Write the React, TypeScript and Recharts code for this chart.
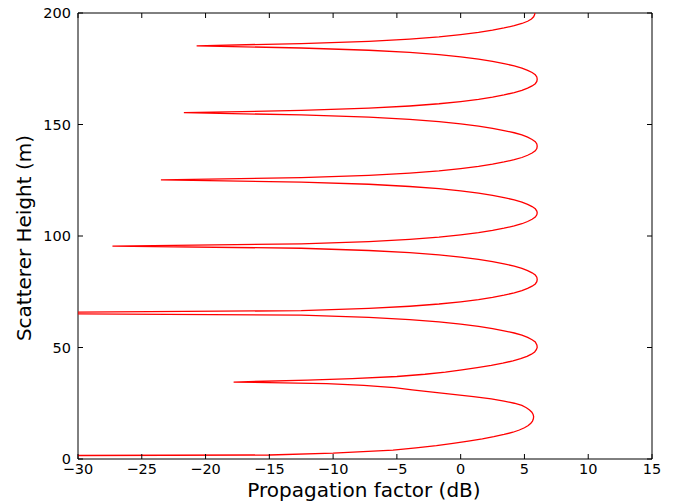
import React from 'react';
import { ScatterChart, Scatter, XAxis, YAxis } from 'recharts';

// [height (m), propagation factor (dB)], lobe by lobe
const lobe0: [number, number][] = [
  [1.4, -40], [1.8, -15], [2.6, -10], [4, -5.3], [5, -3.5], [6, -1.9], [7, -0.6], [8, 0.6],
  [9, 1.7], [10, 2.6], [11, 3.4], [12, 4.1], [13, 4.6], [14, 5.0], [15, 5.3], [16, 5.5],
  [17, 5.63], [18, 5.7], [19, 5.72], [20, 5.68], [21, 5.58], [22, 5.4], [23, 5.15], [24, 4.8],
  [25, 4.2], [26, 3.4], [27, 2.4], [28, 1.0], [29, -0.6], [30, -2.2], [31, -3.8], [32, -5.2],
  [33, -7.6], [33.8, -10.5], [34.5, -17.8],
];
const lobe1: [number, number][] = [
  [35.4, -12], [36, -8.5], [37, -5.0], [38, -2.8], [39, -1.2], [40, 0.1], [41, 1.3], [42, 2.4],
  [43, 3.3], [44, 4.1], [45, 4.7], [46, 5.2], [47, 5.55], [48, 5.8], [49, 5.93], [50, 6.0],
  [51, 5.98], [52.5, 5.85], [53.5, 5.6], [54.5, 5.25], [55.5, 4.8], [56.5, 4.2], [57.5, 3.4],
  [58.5, 2.5], [59.5, 1.4], [60.5, 0.0], [61.5, -1.7], [62.5, -4.0], [63.5, -7.2], [64.5, -12.5],
  [65.5, -42],
];
const lobe2: [number, number][] = [
  [66.5, -12.5], [67.5, -7.2], [68.5, -4.0], [69.5, -1.7], [70.5, 0.0], [71.5, 1.4], [72.5, 2.5],
  [73.5, 3.4], [74.5, 4.2], [75.5, 4.8], [76.5, 5.25], [77.5, 5.6], [78.5, 5.85], [79.5, 5.97],
  [80.5, 6.0], [81.5, 5.97], [82.5, 5.85], [83.5, 5.6], [84.5, 5.25], [85.5, 4.8], [86.5, 4.2],
  [87.5, 3.4], [88.5, 2.5], [89.5, 1.4], [90.5, 0.0], [91.5, -1.7], [92.5, -4.0], [93.5, -7.2],
  [94.5, -12.5], [95.5, -27.3],
];
const lobe3: [number, number][] = [
  [96.5, -12.5], [97.5, -7.2], [98.5, -4.0], [99.5, -1.7], [100.5, 0.0], [101.5, 1.4], [102.5, 2.5],
  [103.5, 3.4], [104.5, 4.2], [105.5, 4.8], [106.5, 5.25], [107.5, 5.6], [108.5, 5.85], [109.5, 5.97],
  [110.4, 6.0], [111.2, 5.97], [112.2, 5.85], [113.2, 5.6], [114.2, 5.25], [115.2, 4.8], [116.2, 4.2],
  [117.2, 3.4], [118.2, 2.5], [119.2, 1.4], [120.2, 0.0], [121.2, -1.7], [122.2, -4.0], [123.2, -7.2],
  [124.2, -12.5], [125.2, -23.5],
];
const lobe4: [number, number][] = [
  [126.2, -12.5], [127.2, -7.2], [128.2, -4.0], [129.2, -1.7], [130.2, 0.0], [131.2, 1.4], [132.2, 2.5],
  [133.2, 3.4], [134.2, 4.2], [135.2, 4.8], [136.2, 5.25], [137.2, 5.6], [138.2, 5.85], [139.2, 5.97],
  [140.3, 6.0], [141.3, 5.97], [142.3, 5.85], [143.3, 5.6], [144.3, 5.25], [145.3, 4.8], [146.3, 4.2],
  [147.3, 3.4], [148.3, 2.5], [149.3, 1.4], [150.3, 0.0], [151.3, -1.7], [152.3, -4.0], [153.3, -7.2],
  [154.3, -12.5], [155.3, -21.7],
];
const lobe5: [number, number][] = [
  [156.3, -12.5], [157.3, -7.2], [158.3, -4.0], [159.3, -1.7], [160.3, 0.0], [161.3, 1.4], [162.3, 2.5],
  [163.3, 3.4], [164.3, 4.2], [165.3, 4.8], [166.3, 5.25], [167.3, 5.6], [168.3, 5.85], [169.3, 5.97],
  [170.3, 6.0], [171.3, 5.97], [172.3, 5.85], [173.3, 5.6], [174.3, 5.25], [175.3, 4.8], [176.3, 4.2],
  [177.3, 3.4], [178.3, 2.5], [179.3, 1.4], [180.3, 0.0], [181.3, -1.7], [182.3, -4.0], [183.3, -7.2],
  [184.3, -12.5], [185.3, -20.7],
];
const lobe6: [number, number][] = [
  [186.3, -12.5], [187.3, -7.2], [188.3, -4.0], [189.3, -1.7], [190.3, 0.0], [191.3, 1.4], [192.3, 2.5],
  [193.3, 3.4], [194.3, 4.2], [195.3, 4.8], [196.3, 5.25], [197.3, 5.55], [198.3, 5.72], [199.3, 5.8],
  [200, 5.82],
];

const xTicks = [-30, -25, -20, -15, -10, -5, 0, 5, 10, 15];
const yTicks = [0, 50, 100, 150, 200];
const xLabel = 'Propagation factor (dB)';
const yLabel = 'Scatterer Height (m)';

const curve = [...lobe0, ...lobe1, ...lobe2, ...lobe3, ...lobe4, ...lobe5, ...lobe6].map(
  ([h, f]) => ({ h, f })
);

const FONT = '"DejaVu Sans", sans-serif';
const fmt = (v: number) => (v < 0 ? '\u2212' + Math.abs(v) : String(v));

const BottomTick = (p: any) => (
  <g>
    <line x1={p.x} y1={p.y} x2={p.x} y2={p.y - 5} stroke="#000" strokeWidth={1} />
    <text x={p.x} y={p.y + 15} textAnchor="middle" fontSize={14.5} fontFamily={FONT} fill="#000">
      {fmt(p.payload.value)}
    </text>
  </g>
);
const TopTick = (p: any) => (
  <line x1={p.x} y1={p.y} x2={p.x} y2={p.y + 5} stroke="#000" strokeWidth={1} />
);
const LeftTick = (p: any) => (
  <g>
    <line x1={p.x} y1={p.y} x2={p.x + 5} y2={p.y} stroke="#000" strokeWidth={1} />
    <text x={p.x - 7} y={p.y + 5} textAnchor="end" fontSize={14.5} fontFamily={FONT} fill="#000">
      {fmt(p.payload.value)}
    </text>
  </g>
);
const RightTick = (p: any) => (
  <line x1={p.x} y1={p.y} x2={p.x - 5} y2={p.y} stroke="#000" strokeWidth={1} />
);

const XLabel = (p: any) => {
  const vb = p.viewBox;
  return (
    <text x={vb.x + vb.width / 2 - 1} y={vb.y + 38} textAnchor="middle" fontSize={20} fontFamily={FONT} fill="#000">
      {xLabel}
    </text>
  );
};
const YLabel = (p: any) => {
  const vb = p.viewBox;
  const cx = vb.x + 31;
  const cy = vb.y + vb.height / 2 + 2;
  return (
    <text x={cx} y={cy} transform={`rotate(-90, ${cx}, ${cy})`} textAnchor="middle" fontSize={20} fontFamily={FONT} fill="#000">
      {yLabel}
    </text>
  );
};

export default function App() {
  return (
    <div style={{ position: 'absolute', left: 0, top: 0, width: 678, height: 503, background: '#fff' }}>
      <ScatterChart width={678} height={503} margin={{ top: 12, right: 25, bottom: 0, left: 0 }}>
        <XAxis
          xAxisId="bottom"
          dataKey="f"
          type="number"
          domain={[-30, 15]}
          ticks={xTicks}
          allowDataOverflow
          orientation="bottom"
          height={44}
          tickSize={0}
          tickMargin={0}
          tickLine={false}
          axisLine={{ stroke: '#000', strokeWidth: 1 }}
          tick={<BottomTick />}
          interval={0}
          label={<XLabel />}
        />
        <XAxis
          xAxisId="top"
          dataKey="f"
          type="number"
          domain={[-30, 15]}
          ticks={xTicks}
          allowDataOverflow
          orientation="top"
          height={1}
          tickSize={0}
          tickMargin={0}
          tickLine={false}
          axisLine={{ stroke: '#000', strokeWidth: 1 }}
          tick={<TopTick />}
          interval={0}
        />
        <YAxis
          yAxisId="left"
          dataKey="h"
          type="number"
          domain={[0, 200]}
          ticks={yTicks}
          allowDataOverflow
          orientation="left"
          width={78}
          tickSize={0}
          tickMargin={0}
          tickLine={false}
          axisLine={{ stroke: '#000', strokeWidth: 1 }}
          tick={<LeftTick />}
          interval={0}
          label={<YLabel />}
        />
        <YAxis
          yAxisId="right"
          dataKey="h"
          type="number"
          domain={[0, 200]}
          ticks={yTicks}
          allowDataOverflow
          orientation="right"
          width={1}
          tickSize={0}
          tickMargin={0}
          tickLine={false}
          axisLine={{ stroke: '#000', strokeWidth: 1 }}
          tick={<RightTick />}
          interval={0}
        />
        <Scatter
          xAxisId="bottom"
          yAxisId="left"
          data={curve}
          fill="#ff0000"
          line={{ stroke: '#ff0000', strokeWidth: 1.3 }}
          lineType="joint"
          shape={() => <g />}
          isAnimationActive={false}
          legendType="none"
        />
      </ScatterChart>
    </div>
  );
}
